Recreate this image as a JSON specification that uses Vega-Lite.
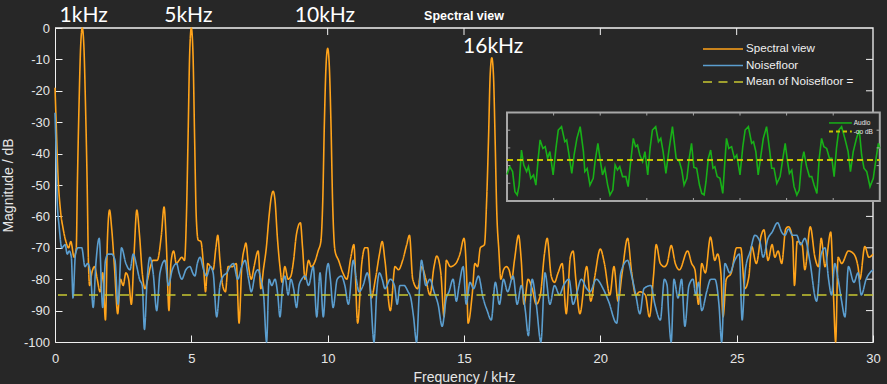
{
  "$schema": "https://vega.github.io/schema/vega-lite/v6.json",
  "width": 818,
  "height": 314,
  "autosize": {"type": "none"},
  "padding": {"left": 55, "top": 28, "right": 14, "bottom": 42},
  "background": "#272727",
  "config": {
    "view": {"stroke": null},
    "axis": {
      "domainColor": "#f0f0f0", "domainWidth": 1, "tickColor": "#f0f0f0", "tickWidth": 1, "tickSize": -7,
      "grid": false, "labelColor": "#e6e6e6", "labelFont": "Liberation Sans", "labelFontSize": 13,
      "titleColor": "#e6e6e6", "titleFont": "Liberation Sans", "titleFontSize": 14, "titleFontWeight": "normal",
      "labelFlush": false, "labelOverlap": false
    }
  },
  "datasets": {
    "spec": [
      {"f":0,"v":-19},{"f":0.05,"v":-32},{"f":0.1,"v":-45},{"f":0.2,"v":-58},{"f":0.3,"v":-64},{"f":0.4,"v":-68},{"f":0.5,"v":-70},{"f":0.58,"v":-68},{"f":0.7,"v":-73},{"f":0.78,"v":-70},
      {"f":0.82,"v":-50},{"f":0.88,"v":-25},{"f":0.94,"v":-6},{"f":1.0,"v":0},{"f":1.06,"v":-6},{"f":1.12,"v":-25},{"f":1.18,"v":-50},{"f":1.22,"v":-72},{"f":1.27,"v":-82},{"f":1.35,"v":-78},
      {"f":1.45,"v":-76},{"f":1.55,"v":-80},{"f":1.65,"v":-84},{"f":1.75,"v":-78},{"f":1.85,"v":-93},{"f":1.92,"v":-68},{"f":2.0,"v":-58},{"f":2.08,"v":-64},{"f":2.18,"v":-76},{"f":2.3,"v":-91},
      {"f":2.4,"v":-80},{"f":2.5,"v":-82},{"f":2.6,"v":-78},{"f":2.7,"v":-80},{"f":2.8,"v":-88},{"f":2.9,"v":-72},{"f":3.0,"v":-58},{"f":3.1,"v":-66},{"f":3.2,"v":-78},{"f":3.3,"v":-83},
      {"f":3.4,"v":-80},{"f":3.5,"v":-76},{"f":3.6,"v":-74},{"f":3.75,"v":-74},{"f":3.9,"v":-66},{"f":4.0,"v":-57},{"f":4.08,"v":-68},{"f":4.18,"v":-90},{"f":4.25,"v":-75},{"f":4.35,"v":-71},
      {"f":4.45,"v":-75},{"f":4.55,"v":-74},{"f":4.65,"v":-73},{"f":4.75,"v":-74},{"f":4.82,"v":-60},{"f":4.88,"v":-35},{"f":4.94,"v":-8},{"f":5.0,"v":0},{"f":5.06,"v":-8},{"f":5.12,"v":-35},
      {"f":5.18,"v":-60},{"f":5.25,"v":-67.5},{"f":5.35,"v":-68},{"f":5.45,"v":-76},{"f":5.52,"v":-84},{"f":5.6,"v":-75},{"f":5.7,"v":-76},{"f":5.8,"v":-77},{"f":5.9,"v":-70},{"f":5.97,"v":-66},
      {"f":6.05,"v":-74},{"f":6.15,"v":-82},{"f":6.25,"v":-84},{"f":6.35,"v":-76},{"f":6.5,"v":-76},{"f":6.65,"v":-75},{"f":6.75,"v":-94},{"f":6.85,"v":-76},{"f":6.95,"v":-70},{"f":7.0,"v":-68.5},
      {"f":7.1,"v":-76},{"f":7.2,"v":-80},{"f":7.3,"v":-76},{"f":7.45,"v":-71},{"f":7.55,"v":-83},{"f":7.65,"v":-76.5},{"f":7.75,"v":-70},{"f":7.85,"v":-60},{"f":7.93,"v":-54},{"f":8.0,"v":-52},
      {"f":8.07,"v":-55},{"f":8.15,"v":-66},{"f":8.25,"v":-76},{"f":8.33,"v":-81},{"f":8.43,"v":-76},{"f":8.55,"v":-80},{"f":8.65,"v":-79},{"f":8.75,"v":-74},{"f":8.85,"v":-66},{"f":9.0,"v":-62},
      {"f":9.08,"v":-70},{"f":9.17,"v":-80},{"f":9.3,"v":-74},{"f":9.4,"v":-76},{"f":9.55,"v":-74},{"f":9.65,"v":-71},{"f":9.75,"v":-68},{"f":9.82,"v":-55},{"f":9.88,"v":-30},{"f":9.94,"v":-12},
      {"f":10.0,"v":-6.5},{"f":10.06,"v":-12},{"f":10.12,"v":-30},{"f":10.18,"v":-55},{"f":10.27,"v":-71},{"f":10.4,"v":-74},{"f":10.56,"v":-78},{"f":10.7,"v":-80},{"f":10.85,"v":-73},{"f":10.96,"v":-69},
      {"f":11.1,"v":-94},{"f":11.25,"v":-75},{"f":11.37,"v":-70},{"f":11.47,"v":-70},{"f":11.6,"v":-86},{"f":11.75,"v":-80},{"f":11.9,"v":-72},{"f":12.0,"v":-68},{"f":12.1,"v":-74},{"f":12.3,"v":-90},
      {"f":12.47,"v":-76},{"f":12.6,"v":-77},{"f":12.75,"v":-74},{"f":12.9,"v":-69},{"f":13.0,"v":-66},{"f":13.12,"v":-80},{"f":13.3,"v":-83},{"f":13.45,"v":-76},{"f":13.6,"v":-80},{"f":13.75,"v":-85},
      {"f":13.9,"v":-76},{"f":14.0,"v":-72.6},{"f":14.15,"v":-78},{"f":14.27,"v":-92},{"f":14.35,"v":-74},{"f":14.5,"v":-76},{"f":14.7,"v":-75},{"f":14.85,"v":-72},{"f":15.0,"v":-67},{"f":15.1,"v":-80},
      {"f":15.15,"v":-94},{"f":15.3,"v":-85},{"f":15.4,"v":-75},{"f":15.5,"v":-76},{"f":15.6,"v":-70},{"f":15.75,"v":-69},{"f":15.83,"v":-55},{"f":15.9,"v":-35},{"f":15.96,"v":-15},{"f":16.02,"v":-9.5},
      {"f":16.08,"v":-15},{"f":16.14,"v":-35},{"f":16.2,"v":-58},{"f":16.28,"v":-71},{"f":16.35,"v":-80},{"f":16.45,"v":-77},{"f":16.55,"v":-76},{"f":16.65,"v":-77},{"f":16.75,"v":-80},{"f":16.85,"v":-74},
      {"f":17.0,"v":-66},{"f":17.1,"v":-74},{"f":17.2,"v":-88},{"f":17.35,"v":-80},{"f":17.5,"v":-83},{"f":17.65,"v":-88},{"f":17.8,"v":-85},{"f":17.95,"v":-72},{"f":18.05,"v":-67},{"f":18.2,"v":-79},
      {"f":18.32,"v":-81},{"f":18.45,"v":-78},{"f":18.6,"v":-75},{"f":18.75,"v":-91},{"f":18.9,"v":-73},{"f":19.0,"v":-71},{"f":19.1,"v":-80},{"f":19.25,"v":-91},{"f":19.5,"v":-76},{"f":19.65,"v":-87},
      {"f":19.8,"v":-79},{"f":20.0,"v":-70.4},{"f":20.15,"v":-75},{"f":20.35,"v":-85},{"f":20.5,"v":-76},{"f":20.65,"v":-87},{"f":20.8,"v":-78},{"f":21.0,"v":-67},{"f":21.15,"v":-78},{"f":21.3,"v":-85},
      {"f":21.45,"v":-84},{"f":21.65,"v":-85},{"f":21.8,"v":-92},{"f":21.95,"v":-79},{"f":22.05,"v":-69},{"f":22.2,"v":-75},{"f":22.35,"v":-76},{"f":22.45,"v":-75},{"f":22.6,"v":-69.3},{"f":22.75,"v":-75},
      {"f":22.9,"v":-77},{"f":23.2,"v":-71},{"f":23.35,"v":-75},{"f":23.47,"v":-77},{"f":23.6,"v":-88},{"f":23.72,"v":-75},{"f":23.85,"v":-78},{"f":24.04,"v":-66.6},{"f":24.2,"v":-74},{"f":24.3,"v":-72},
      {"f":24.42,"v":-78},{"f":24.5,"v":-92},{"f":24.62,"v":-80},{"f":24.8,"v":-78},{"f":25.0,"v":-70},{"f":25.15,"v":-70},{"f":25.3,"v":-83},{"f":25.45,"v":-79},{"f":25.55,"v":-69.5},{"f":25.72,"v":-75},
      {"f":25.9,"v":-66},{"f":26.0,"v":-64.3},{"f":26.15,"v":-74},{"f":26.3,"v":-69},{"f":26.4,"v":-73},{"f":26.52,"v":-71},{"f":26.65,"v":-75},{"f":26.8,"v":-64},{"f":26.9,"v":-63.3},{"f":27.05,"v":-67},
      {"f":27.12,"v":-82},{"f":27.22,"v":-68},{"f":27.4,"v":-69},{"f":27.5,"v":-77},{"f":27.7,"v":-63.3},{"f":27.87,"v":-73},{"f":28.0,"v":-76},{"f":28.1,"v":-67},{"f":28.24,"v":-76},{"f":28.45,"v":-65},
      {"f":28.55,"v":-85},{"f":28.63,"v":-100},{"f":28.72,"v":-73},{"f":28.85,"v":-75},{"f":29.1,"v":-71},{"f":29.3,"v":-72},{"f":29.45,"v":-76},{"f":29.52,"v":-80},{"f":29.7,"v":-69.6},{"f":29.85,"v":-73},
      {"f":30.0,"v":-72}
    ],
    "noise": [
      {"f":0,"v":-27},{"f":0.03,"v":-36},{"f":0.08,"v":-55},{"f":0.15,"v":-63},{"f":0.25,"v":-70},{"f":0.37,"v":-69},{"f":0.45,"v":-72},{"f":0.52,"v":-71},{"f":0.6,"v":-73},{"f":0.66,"v":-86},
      {"f":0.75,"v":-72},{"f":0.85,"v":-70},{"f":0.98,"v":-70},{"f":1.1,"v":-76},{"f":1.2,"v":-75},{"f":1.3,"v":-78},{"f":1.4,"v":-89},{"f":1.5,"v":-75},{"f":1.62,"v":-67},{"f":1.75,"v":-89},
      {"f":1.85,"v":-74},{"f":1.95,"v":-72},{"f":2.08,"v":-72},{"f":2.2,"v":-74},{"f":2.31,"v":-88},{"f":2.44,"v":-70},{"f":2.6,"v":-75},{"f":2.75,"v":-77},{"f":2.87,"v":-72},{"f":3.0,"v":-76},
      {"f":3.1,"v":-80},{"f":3.2,"v":-82},{"f":3.28,"v":-96},{"f":3.38,"v":-80},{"f":3.48,"v":-73},{"f":3.6,"v":-78},{"f":3.73,"v":-90},{"f":3.85,"v":-78},{"f":4.03,"v":-74},{"f":4.16,"v":-82},
      {"f":4.3,"v":-77},{"f":4.46,"v":-75},{"f":4.55,"v":-78},{"f":4.65,"v":-80},{"f":4.8,"v":-77},{"f":4.95,"v":-76},{"f":5.05,"v":-78},{"f":5.13,"v":-79},{"f":5.22,"v":-75},{"f":5.32,"v":-73},
      {"f":5.45,"v":-77},{"f":5.56,"v":-79},{"f":5.7,"v":-76},{"f":5.8,"v":-78},{"f":5.93,"v":-92},{"f":6.05,"v":-82},{"f":6.17,"v":-79},{"f":6.3,"v":-78},{"f":6.42,"v":-76},{"f":6.54,"v":-75},
      {"f":6.7,"v":-80},{"f":6.85,"v":-76},{"f":6.97,"v":-74},{"f":7.1,"v":-80},{"f":7.2,"v":-84},{"f":7.35,"v":-78},{"f":7.45,"v":-77},{"f":7.55,"v":-80},{"f":7.65,"v":-85},{"f":7.76,"v":-100},
      {"f":7.85,"v":-80},{"f":7.95,"v":-82},{"f":8.07,"v":-80},{"f":8.17,"v":-85},{"f":8.25,"v":-92},{"f":8.35,"v":-82},{"f":8.43,"v":-79},{"f":8.55,"v":-85},{"f":8.65,"v":-80},{"f":8.75,"v":-83},
      {"f":8.86,"v":-89},{"f":8.95,"v":-82},{"f":9.05,"v":-80},{"f":9.17,"v":-79},{"f":9.3,"v":-82},{"f":9.47,"v":-76},{"f":9.6,"v":-92},{"f":9.72,"v":-78},{"f":9.84,"v":-92},{"f":9.95,"v":-78},
      {"f":10.02,"v":-75},{"f":10.1,"v":-80},{"f":10.2,"v":-89},{"f":10.35,"v":-80},{"f":10.5,"v":-79},{"f":10.63,"v":-82},{"f":10.76,"v":-88},{"f":10.94,"v":-74},{"f":11.05,"v":-80},{"f":11.15,"v":-84},
      {"f":11.3,"v":-82},{"f":11.45,"v":-78},{"f":11.55,"v":-82},{"f":11.7,"v":-100},{"f":11.8,"v":-84},{"f":11.9,"v":-78},{"f":12.0,"v":-80},{"f":12.1,"v":-83},{"f":12.3,"v":-80},{"f":12.45,"v":-82},
      {"f":12.55,"v":-88},{"f":12.65,"v":-82},{"f":12.8,"v":-82},{"f":12.95,"v":-84},{"f":13.05,"v":-86},{"f":13.15,"v":-92},{"f":13.26,"v":-100},{"f":13.36,"v":-84},{"f":13.44,"v":-74},{"f":13.6,"v":-82},
      {"f":13.75,"v":-80},{"f":13.9,"v":-84},{"f":14.05,"v":-88},{"f":14.2,"v":-95},{"f":14.35,"v":-86},{"f":14.45,"v":-84},{"f":14.6,"v":-80},{"f":14.72,"v":-87},{"f":14.82,"v":-82},{"f":14.97,"v":-76},
      {"f":15.08,"v":-88},{"f":15.22,"v":-81},{"f":15.35,"v":-83},{"f":15.53,"v":-79},{"f":15.7,"v":-86},{"f":15.85,"v":-90},{"f":16.0,"v":-93},{"f":16.15,"v":-81},{"f":16.3,"v":-88},{"f":16.45,"v":-80},
      {"f":16.6,"v":-84},{"f":16.8,"v":-79},{"f":16.95,"v":-88},{"f":17.1,"v":-82},{"f":17.25,"v":-90},{"f":17.36,"v":-98},{"f":17.5,"v":-80},{"f":17.65,"v":-88},{"f":17.82,"v":-100},{"f":17.97,"v":-78},
      {"f":18.15,"v":-88},{"f":18.32,"v":-82},{"f":18.5,"v":-85},{"f":18.65,"v":-82},{"f":18.85,"v":-80},{"f":19.0,"v":-88},{"f":19.15,"v":-84},{"f":19.3,"v":-80},{"f":19.5,"v":-83},{"f":19.62,"v":-84},
      {"f":19.85,"v":-80},{"f":20.1,"v":-83},{"f":20.3,"v":-87},{"f":20.6,"v":-94},{"f":20.75,"v":-78},{"f":21.0,"v":-74},{"f":21.15,"v":-79},{"f":21.3,"v":-85},{"f":21.45,"v":-91},{"f":21.6,"v":-83},
      {"f":21.85,"v":-82},{"f":22.0,"v":-88},{"f":22.2,"v":-93},{"f":22.35,"v":-80},{"f":22.45,"v":-82},{"f":22.5,"v":-90},{"f":22.6,"v":-100},{"f":22.7,"v":-80},{"f":22.85,"v":-86},{"f":22.98,"v":-80},
      {"f":23.1,"v":-95},{"f":23.25,"v":-82},{"f":23.4,"v":-80},{"f":23.5,"v":-85},{"f":23.6,"v":-81},{"f":23.72,"v":-90},{"f":23.9,"v":-84},{"f":24.05,"v":-80},{"f":24.2,"v":-80},{"f":24.35,"v":-88},
      {"f":24.45,"v":-100},{"f":24.57,"v":-75},{"f":24.75,"v":-78},{"f":24.93,"v":-74},{"f":25.1,"v":-72},{"f":25.2,"v":-93},{"f":25.32,"v":-77},{"f":25.5,"v":-71},{"f":25.67,"v":-66},{"f":25.85,"v":-68},
      {"f":25.97,"v":-73},{"f":26.15,"v":-67},{"f":26.3,"v":-65},{"f":26.5,"v":-62},{"f":26.65,"v":-65},{"f":26.77,"v":-66},{"f":26.9,"v":-64},{"f":27.05,"v":-66},{"f":27.2,"v":-66},{"f":27.35,"v":-69},
      {"f":27.5,"v":-67},{"f":27.68,"v":-74},{"f":27.93,"v":-87},{"f":28.1,"v":-72},{"f":28.24,"v":-70},{"f":28.37,"v":-80},{"f":28.48,"v":-85},{"f":28.6,"v":-75},{"f":28.72,"v":-80},{"f":28.85,"v":-87},
      {"f":28.97,"v":-92},{"f":29.1,"v":-76},{"f":29.3,"v":-81},{"f":29.45,"v":-78},{"f":29.57,"v":-85},{"f":29.75,"v":-80},{"f":30.0,"v":-77}
    ],
    "audio": [
      {"t":0.0,"a":1.5},{"t":0.06,"a":1.94},{"t":0.12,"a":1.66},{"t":0.17,"a":0.53},{"t":0.22,"a":0.34},{"t":0.26,"a":0.9},{"t":0.31,"a":2.88},{"t":0.36,"a":2.03},{"t":0.42,"a":1.66},{"t":0.46,"a":1.94},
      {"t":0.51,"a":1.28},{"t":0.57,"a":1.47},{"t":0.62,"a":0.9},{"t":0.67,"a":2.41},{"t":0.71,"a":3.45},{"t":0.77,"a":2.97},{"t":0.82,"a":3.07},{"t":0.87,"a":2.41},{"t":0.92,"a":2.79},{"t":0.99,"a":1.47},
      {"t":1.05,"a":2.97},{"t":1.1,"a":4.01},{"t":1.17,"a":4.2},{"t":1.24,"a":3.35},{"t":1.28,"a":3.45},{"t":1.32,"a":2.79},{"t":1.39,"a":1.56},{"t":1.44,"a":2.6},{"t":1.5,"a":3.54},{"t":1.57,"a":4.2},
      {"t":1.64,"a":2.79},{"t":1.67,"a":1.66},{"t":1.72,"a":1.84},{"t":1.78,"a":0.9},{"t":1.85,"a":1.28},{"t":1.89,"a":2.22},{"t":1.95,"a":3.26},{"t":2.0,"a":2.32},{"t":2.05,"a":1.47},{"t":2.1,"a":1.84},
      {"t":2.16,"a":0.9},{"t":2.21,"a":0.34},{"t":2.27,"a":0.62},{"t":2.32,"a":2.03},{"t":2.37,"a":1.75},{"t":2.42,"a":1.94},{"t":2.48,"a":1.38},{"t":2.55,"a":1.38},{"t":2.6,"a":0.81},{"t":2.65,"a":2.13},
      {"t":2.71,"a":3.54},{"t":2.76,"a":3.07},{"t":2.8,"a":3.16},{"t":2.85,"a":2.6},{"t":2.91,"a":2.22},{"t":2.96,"a":2.79},{"t":3.02,"a":1.47},{"t":3.07,"a":2.97},{"t":3.12,"a":4.01},{"t":3.19,"a":4.2},
      {"t":3.25,"a":3.35},{"t":3.3,"a":3.54},{"t":3.35,"a":2.79},{"t":3.41,"a":1.56},{"t":3.48,"a":2.97},{"t":3.55,"a":4.2},{"t":3.63,"a":2.41},{"t":3.7,"a":2.22},{"t":3.75,"a":1.75},{"t":3.8,"a":0.9},
      {"t":3.86,"a":1.28},{"t":3.91,"a":2.41},{"t":3.96,"a":3.26},{"t":4.01,"a":1.9},{"t":4.07,"a":1.85},{"t":4.13,"a":0.9},{"t":4.18,"a":0.43},{"t":4.23,"a":0.34},{"t":4.27,"a":1.09},{"t":4.32,"a":2.41},
      {"t":4.37,"a":2.88},{"t":4.42,"a":1.85},{"t":4.46,"a":1.94},{"t":4.51,"a":1.38},{"t":4.57,"a":1.28},{"t":4.63,"a":0.43},{"t":4.68,"a":2.41},{"t":4.71,"a":3.54},{"t":4.76,"a":2.97},{"t":4.82,"a":3.07},
      {"t":4.88,"a":2.41},{"t":4.93,"a":2.6},{"t":5.0,"a":1.47},{"t":5.06,"a":3.07},{"t":5.11,"a":4.01},{"t":5.18,"a":4.2},{"t":5.25,"a":3.26},{"t":5.29,"a":3.35},{"t":5.34,"a":2.79},{"t":5.39,"a":1.47},
      {"t":5.45,"a":2.6},{"t":5.5,"a":3.54},{"t":5.57,"a":4.2},{"t":5.64,"a":2.79},{"t":5.68,"a":1.85},{"t":5.73,"a":1.85},{"t":5.79,"a":0.99},{"t":5.86,"a":1.38},{"t":5.92,"a":2.41},{"t":5.97,"a":3.26},
      {"t":6.02,"a":2.22},{"t":6.06,"a":1.56},{"t":6.11,"a":1.75},{"t":6.16,"a":0.81},{"t":6.22,"a":0.34},{"t":6.27,"a":0.62},{"t":6.32,"a":2.13},{"t":6.37,"a":2.79},{"t":6.43,"a":1.94},{"t":6.49,"a":1.38},
      {"t":6.54,"a":1.38},{"t":6.59,"a":0.9},{"t":6.65,"a":0.43},{"t":6.7,"a":2.41},{"t":6.75,"a":3.54},{"t":6.8,"a":3.07},{"t":6.86,"a":2.97},{"t":6.92,"a":2.41},{"t":6.97,"a":2.41},{"t":7.02,"a":1.38},
      {"t":7.07,"a":2.97},{"t":7.12,"a":4.01},{"t":7.18,"a":4.2},{"t":7.25,"a":3.54},{"t":7.32,"a":2.79},{"t":7.37,"a":1.66},{"t":7.43,"a":2.79},{"t":7.5,"a":3.54},{"t":7.56,"a":4.01},{"t":7.61,"a":2.6},
      {"t":7.66,"a":1.85},{"t":7.72,"a":1.66},{"t":7.79,"a":0.81},{"t":7.86,"a":1.28},{"t":7.92,"a":2.41},{"t":7.97,"a":3.26},{"t":8.0,"a":2.97}
    ],
    "frame": [{"fx": 0, "fy": 0}, {"fx": 30, "fy": 0}, {"fx": 30, "fy": -100}],
    "xticks": [{"fx":5},{"fx":10},{"fx":15},{"fx":20},{"fx":25}],
    "yticks": [{"fy":-10},{"fy":-20},{"fy":-30},{"fy":-40},{"fy":-50},{"fy":-60},{"fy":-70},{"fy":-80},{"fy":-90}],
    "insetx": [{"t":1},{"t":2},{"t":3},{"t":4},{"t":5},{"t":6},{"t":7}],
    "insety": [{"a":1},{"a":2},{"a":3},{"a":4}]
  },
  "layer": [
    {
      "layer": [
        {
          "data": {"name": "frame"},
          "mark": {"type": "line", "color": "#f4f4f4", "strokeWidth": 1.3},
          "encoding": {
            "x": {"field": "fx", "type": "quantitative", "scale": {"domain": [0, 30], "nice": false, "zero": false}, "axis": null},
            "y": {"field": "fy", "type": "quantitative", "scale": {"domain": [-100, 0], "nice": false, "zero": false}, "axis": null}
          }
        },
        {
          "data": {"name": "xticks"},
          "mark": {"type": "rule", "color": "#f0f0f0", "strokeWidth": 1},
          "encoding": {
            "x": {"field": "fx", "type": "quantitative", "axis": null},
            "y": {"datum": 0, "type": "quantitative", "axis": null},
            "y2": {"datum": -2.23}
          }
        },
        {
          "data": {"name": "yticks"},
          "mark": {"type": "rule", "color": "#f0f0f0", "strokeWidth": 1},
          "encoding": {
            "y": {"field": "fy", "type": "quantitative", "axis": null},
            "x": {"datum": 30, "type": "quantitative", "axis": null},
            "x2": {"datum": 29.743}
          }
        }
      ]
    },
    {
      "resolve": {"axis": {"x": "independent", "y": "independent"}},
      "layer": [
        {
          "data": {"name": "spec"},
          "mark": {"type": "line", "strokeWidth": 1.6, "strokeJoin": "round", "interpolate": "monotone"},
          "encoding": {
            "x": {"field": "f", "type": "quantitative", "scale": {"domain": [0, 30], "nice": false, "zero": false},
                  "axis": {"orient": "bottom", "values": [0, 5, 10, 15, 20, 25, 30], "title": "Frequency / kHz", "labelPadding": 17, "titlePadding": 5}},
            "y": {"field": "v", "type": "quantitative", "scale": {"domain": [-100, 0], "nice": false, "zero": false},
                  "axis": {"orient": "left", "values": [0, -10, -20, -30, -40, -50, -60, -70, -80, -90, -100], "title": "Magnitude / dB", "labelPadding": 12.5, "titlePadding": 8,
                           "labelExpr": "datum.value == 0 ? '0' : '-' + abs(datum.value)"}},
            "color": {"datum": "Spectral view", "type": "nominal",
                      "scale": {"domain": ["Spectral view", "Noisefloor", "Mean of Noisefloor ="], "range": ["#ffa31a", "#5b9ecf", "#c8c832"]},
                      "legend": {"title": null, "orient": "none", "legendX": 647, "legendY": 13, "padding": 0, "rowPadding": 0.5, "clipHeight": 16,
                                 "symbolType": "stroke", "symbolSize": 1600, "symbolStrokeWidth": 1.5, "labelOffset": 2,
                                 "labelFont": "Liberation Sans", "labelFontSize": 11.6, "labelColor": "#f0f0f0"}},
            "strokeDash": {"datum": "Spectral view", "type": "nominal",
                           "scale": {"domain": ["Spectral view", "Noisefloor", "Mean of Noisefloor ="], "range": [[1, 0], [1, 0], [9, 6.5]]},
                           "legend": {"title": null, "orient": "none", "legendX": 647, "legendY": 13, "padding": 0, "rowPadding": 0.5, "clipHeight": 16,
                                      "symbolType": "stroke", "symbolSize": 1600, "symbolStrokeWidth": 1.5, "labelOffset": 2,
                                      "labelFont": "Liberation Sans", "labelFontSize": 11.6, "labelColor": "#f0f0f0"}}
          }
        },
        {
          "data": {"name": "noise"},
          "mark": {"type": "line", "strokeWidth": 1.6, "strokeJoin": "round", "interpolate": "monotone"},
          "encoding": {
            "x": {"field": "f", "type": "quantitative", "axis": null},
            "y": {"field": "v", "type": "quantitative", "axis": null},
            "color": {"datum": "Noisefloor", "type": "nominal"},
            "strokeDash": {"datum": "Noisefloor", "type": "nominal"}
          }
        },
        {
          "data": {"values": [{}]},
          "mark": {"type": "rule", "strokeWidth": 1.5},
          "encoding": {
            "y": {"datum": -85, "type": "quantitative", "axis": null},
            "color": {"datum": "Mean of Noisefloor =", "type": "nominal"},
            "strokeDash": {"datum": "Mean of Noisefloor =", "type": "nominal"}
          }
        },
        {
          "data": {"values": [
            {"f": 1.05, "v": 2, "label": "1kHz"},
            {"f": 4.89, "v": 2, "label": "5kHz"},
            {"f": 9.9, "v": 2, "label": "10kHz"},
            {"f": 16.07, "v": -7.9, "label": "16kHz"}
          ]},
          "mark": {"type": "text", "font": "Lato", "fontSize": 21, "color": "#ffffff", "align": "center", "baseline": "alphabetic"},
          "encoding": {
            "x": {"field": "f", "type": "quantitative", "axis": null},
            "y": {"field": "v", "type": "quantitative", "axis": null},
            "text": {"field": "label"}
          }
        },
        {
          "data": {"values": [{"f": 15, "v": 2.55, "label": "Spectral view"}]},
          "mark": {"type": "text", "font": "Liberation Sans", "fontSize": 12.5, "fontWeight": "bold", "color": "#ffffff", "align": "center", "baseline": "alphabetic"},
          "encoding": {
            "x": {"field": "f", "type": "quantitative", "axis": null},
            "y": {"field": "v", "type": "quantitative", "axis": null},
            "text": {"field": "label"}
          }
        }
      ]
    },
    {
      "layer": [
        {
          "data": {"values": [{}]},
          "mark": {"type": "rect", "fill": "#272727", "stroke": "#a8a8a8", "strokeWidth": 2},
          "encoding": {
            "x": {"datum": 0, "type": "quantitative", "scale": {"domain": [-9.70, 7.854], "nice": false, "zero": false}, "axis": null},
            "x2": {"datum": 8},
            "y": {"datum": 0, "type": "quantitative", "scale": {"domain": [-7.966, 9.774], "nice": false, "zero": false}, "axis": null},
            "y2": {"datum": 5}
          }
        },
        {
          "data": {"name": "audio"},
          "mark": {"type": "line", "color": "#18b018", "strokeWidth": 1.6},
          "encoding": {
            "x": {"field": "t", "type": "quantitative", "axis": null},
            "y": {"field": "a", "type": "quantitative", "axis": null}
          }
        },
        {
          "data": {"values": [{}]},
          "mark": {"type": "rule", "color": "#c8c400", "strokeWidth": 2, "strokeDash": [6, 4]},
          "encoding": {
            "x": {"datum": 0, "type": "quantitative", "axis": null},
            "x2": {"datum": 8},
            "y": {"datum": 2.32, "type": "quantitative", "axis": null}
          }
        },
        {
          "data": {"name": "insetx"},
          "mark": {"type": "rule", "color": "#a8a8a8", "strokeWidth": 1},
          "encoding": {
            "x": {"field": "t", "type": "quantitative", "axis": null},
            "y": {"datum": 5, "type": "quantitative", "axis": null},
            "y2": {"datum": 4.83}
          }
        },
        {
          "data": {"name": "insetx"},
          "mark": {"type": "rule", "color": "#a8a8a8", "strokeWidth": 1},
          "encoding": {
            "x": {"field": "t", "type": "quantitative", "axis": null},
            "y": {"datum": 0, "type": "quantitative", "axis": null},
            "y2": {"datum": 0.17}
          }
        },
        {
          "data": {"name": "insety"},
          "mark": {"type": "rule", "color": "#a8a8a8", "strokeWidth": 1},
          "encoding": {
            "y": {"field": "a", "type": "quantitative", "axis": null},
            "x": {"datum": 0, "type": "quantitative", "axis": null},
            "x2": {"datum": 0.07}
          }
        },
        {
          "data": {"name": "insety"},
          "mark": {"type": "rule", "color": "#a8a8a8", "strokeWidth": 1},
          "encoding": {
            "y": {"field": "a", "type": "quantitative", "axis": null},
            "x": {"datum": 8, "type": "quantitative", "axis": null},
            "x2": {"datum": 7.93}
          }
        },
        {
          "data": {"values": [{}]},
          "mark": {"type": "rule", "color": "#18b018", "strokeWidth": 1.5},
          "encoding": {
            "x": {"datum": 6.91, "type": "quantitative", "axis": null},
            "x2": {"datum": 7.4},
            "y": {"datum": 4.41, "type": "quantitative", "axis": null}
          }
        },
        {
          "data": {"values": [{}]},
          "mark": {"type": "rule", "color": "#c8c400", "strokeWidth": 2, "strokeDash": [4, 3]},
          "encoding": {
            "x": {"datum": 6.91, "type": "quantitative", "axis": null},
            "x2": {"datum": 7.4},
            "y": {"datum": 3.92, "type": "quantitative", "axis": null}
          }
        },
        {
          "data": {"values": [{"t": 7.44, "a": 4.41, "label": "Audio"}, {"t": 7.44, "a": 3.92, "label": "-oo dB"}]},
          "mark": {"type": "text", "font": "Liberation Sans", "fontSize": 6.5, "color": "#e8e8e8", "align": "left", "baseline": "middle"},
          "encoding": {
            "x": {"field": "t", "type": "quantitative", "axis": null},
            "y": {"field": "a", "type": "quantitative", "axis": null},
            "text": {"field": "label"}
          }
        }
      ]
    }
  ],
  "resolve": {"scale": {"x": "independent", "y": "independent"}}
}
